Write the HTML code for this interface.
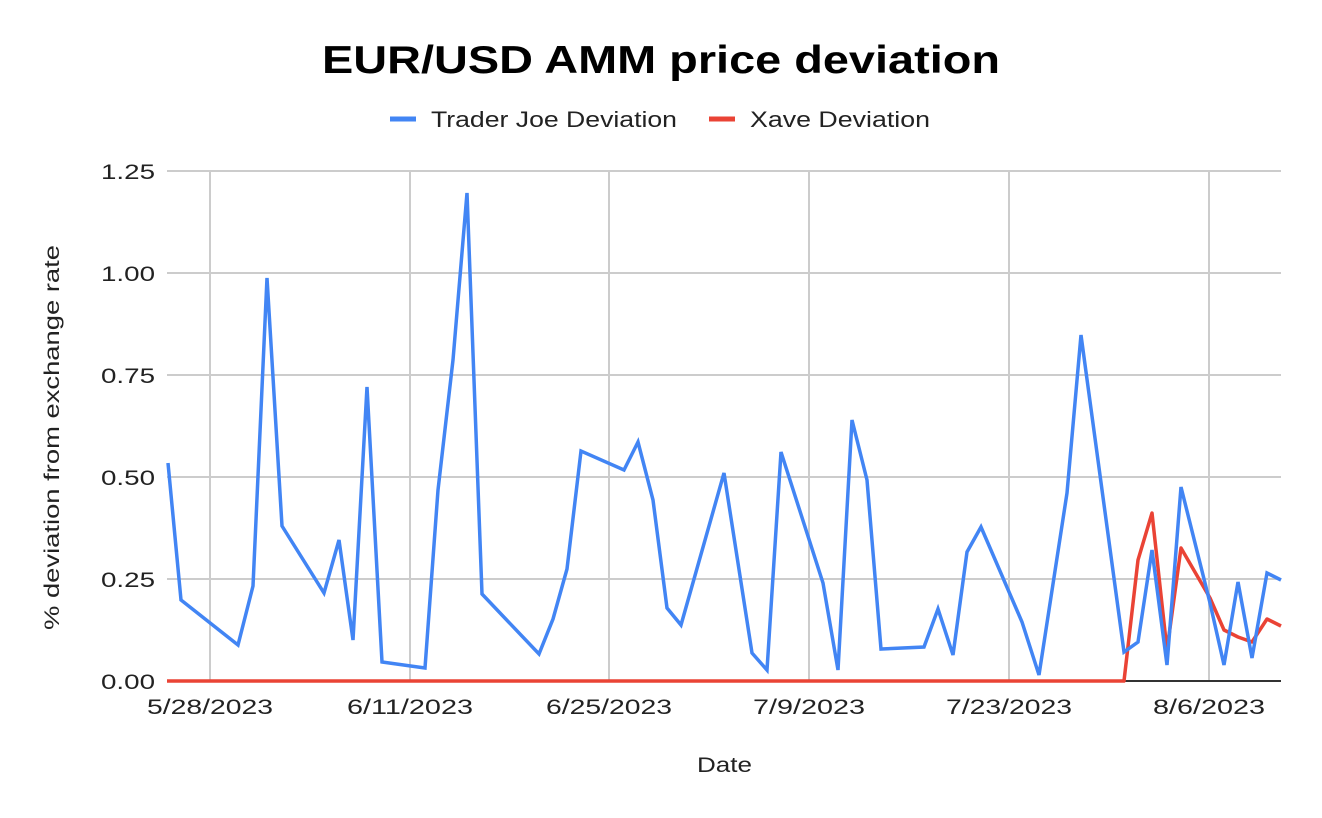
<!DOCTYPE html>
<html><head><meta charset="utf-8"><style>
body{margin:0;background:#fff}
svg{display:block;font-family:"Liberation Sans",Arial,sans-serif}
</style></head><body>
<svg width="1322" height="818" viewBox="0 0 1322 818">
<text x="322" y="73" font-size="39" font-weight="bold" fill="#000" textLength="678" lengthAdjust="spacingAndGlyphs">EUR/USD AMM price deviation</text>
<line x1="390" y1="119" x2="416" y2="119" stroke="#4285f4" stroke-width="5"/>
<text x="431" y="127" font-size="22" fill="#222" textLength="246" lengthAdjust="spacingAndGlyphs">Trader Joe Deviation</text>
<line x1="709" y1="119" x2="735" y2="119" stroke="#ea4335" stroke-width="5"/>
<text x="750" y="127" font-size="22" fill="#222" textLength="180" lengthAdjust="spacingAndGlyphs">Xave Deviation</text>
<g stroke="#cccccc" stroke-width="2">
<line x1="167" y1="171" x2="1281" y2="171"/><line x1="167" y1="273" x2="1281" y2="273"/>
<line x1="167" y1="375" x2="1281" y2="375"/><line x1="167" y1="477" x2="1281" y2="477"/>
<line x1="167" y1="579" x2="1281" y2="579"/>
<line x1="210" y1="171" x2="210" y2="681"/><line x1="410" y1="171" x2="410" y2="681"/>
<line x1="609" y1="171" x2="609" y2="681"/><line x1="809" y1="171" x2="809" y2="681"/>
<line x1="1009" y1="171" x2="1009" y2="681"/><line x1="1209" y1="171" x2="1209" y2="681"/>
</g>
<line x1="167" y1="681" x2="1281" y2="681" stroke="#333" stroke-width="2"/>
<g font-size="21" fill="#222">
<text x="101" y="179" textLength="54" lengthAdjust="spacingAndGlyphs">1.25</text>
<text x="101" y="281" textLength="54" lengthAdjust="spacingAndGlyphs">1.00</text>
<text x="101" y="383" textLength="54" lengthAdjust="spacingAndGlyphs">0.75</text>
<text x="101" y="485" textLength="54" lengthAdjust="spacingAndGlyphs">0.50</text>
<text x="101" y="587" textLength="54" lengthAdjust="spacingAndGlyphs">0.25</text>
<text x="101" y="689" textLength="54" lengthAdjust="spacingAndGlyphs">0.00</text>
</g>
<g font-size="21" fill="#222">
<text x="147" y="714" textLength="126" lengthAdjust="spacingAndGlyphs">5/28/2023</text>
<text x="347" y="714" textLength="126" lengthAdjust="spacingAndGlyphs">6/11/2023</text>
<text x="546" y="714" textLength="126" lengthAdjust="spacingAndGlyphs">6/25/2023</text>
<text x="753" y="714" textLength="112" lengthAdjust="spacingAndGlyphs">7/9/2023</text>
<text x="946" y="714" textLength="126" lengthAdjust="spacingAndGlyphs">7/23/2023</text>
<text x="1153" y="714" textLength="112" lengthAdjust="spacingAndGlyphs">8/6/2023</text>
<text x="697" y="772" textLength="55" lengthAdjust="spacingAndGlyphs">Date</text>
</g>
<text transform="translate(59,630) rotate(-90)" font-size="21" fill="#222" textLength="385" lengthAdjust="spacingAndGlyphs">% deviation from exchange rate</text>
<polyline fill="none" stroke="#ea4335" stroke-width="3.5" stroke-linejoin="round" points="167,681 1124,681 1138,560 1152,513 1167,650 1181,548 1210,598 1224,630 1238,637 1252,642 1267,619 1281,626"/>
<polyline fill="none" stroke="#4285f4" stroke-width="3.5" stroke-linejoin="miter" points="168,463 181,600 238,645 253,586 267,278 282,526 324,593 339,540 353,640 367,387 382,662 425,668 438,490 453,360 467,193 482,594 539,654 553,619 567,569 581,451 624,470 638,442 653,500 667,608 681,625 724,473 752,653 767,670 781,452 823,583 838,670 852,420 867,480 881,649 924,647 938,609 953,655 967,552 981,527 1022,622 1039,675 1067,493 1081,335 1124,652 1138,642 1152,550 1167,665 1181,487 1210,603 1224,665 1238,582 1252,658 1267,573 1281,580"/>
</svg>
</body></html>
